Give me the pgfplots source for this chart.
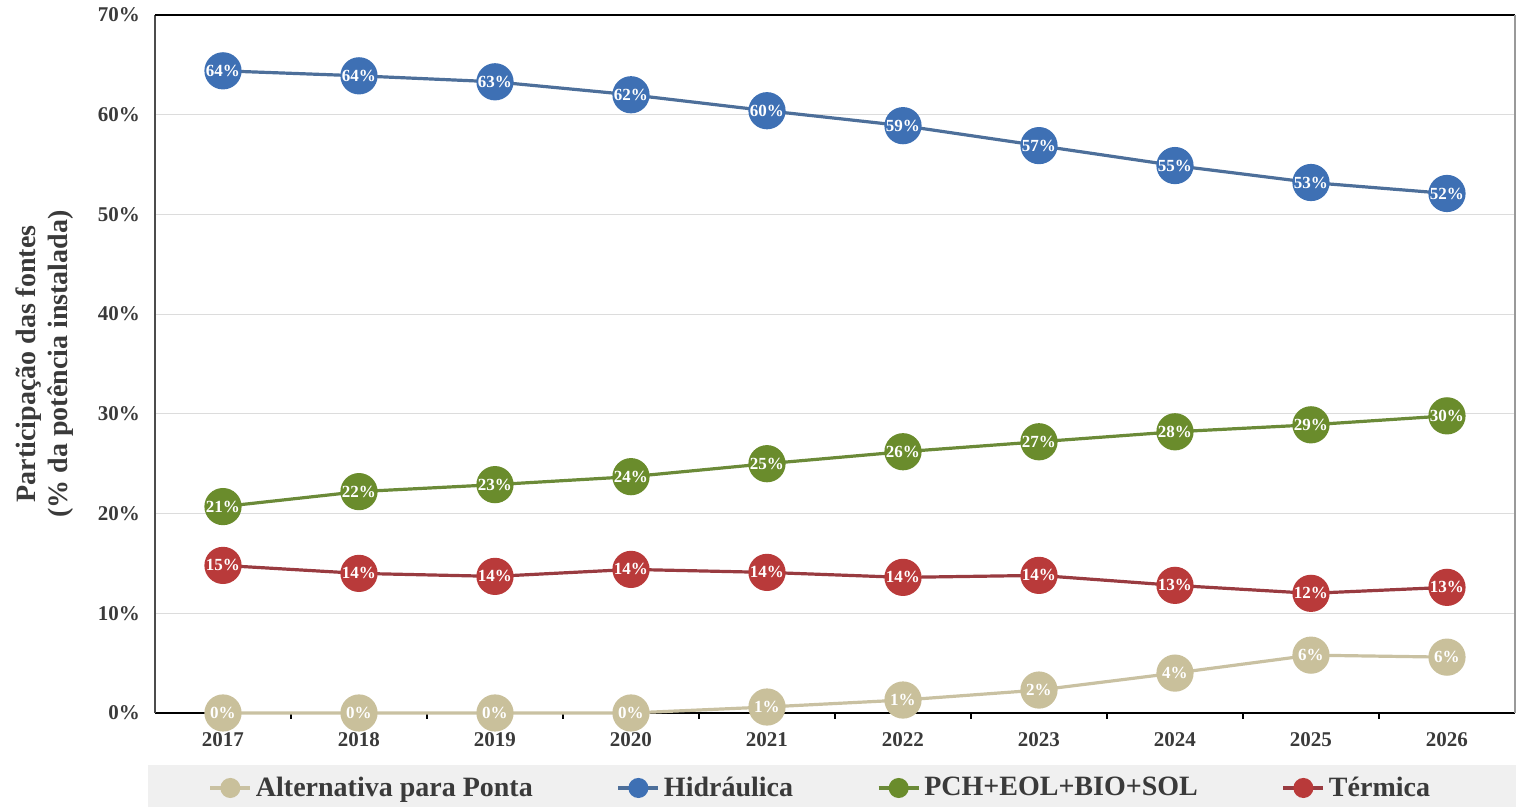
\documentclass[border=0pt]{standalone}
\usepackage{fontspec}
\setmainfont{Liberation Serif}
\usepackage{pgfplots}
\usepackage{pgfplotstable}
\pgfplotsset{compat=1.18}

\definecolor{hidfill}{HTML}{3E70B4}
\definecolor{hidline}{HTML}{4D6F9A}
\definecolor{pchfill}{HTML}{6A8C2C}
\definecolor{pchline}{HTML}{6B8A38}
\definecolor{terfill}{HTML}{B93A3A}
\definecolor{terline}{HTML}{993B40}
\definecolor{altfill}{HTML}{C9C09B}
\definecolor{altline}{HTML}{C9C1A2}
\definecolor{textgray}{HTML}{3A3A3A}
\definecolor{gridgray}{HTML}{DCDCDC}
\definecolor{bandgray}{HTML}{F0F0F0}

% Participação de cada fonte na potência instalada (%)
\pgfplotstableread{
x  alt  hid   pch   ter
0  0.0  64.4  20.7  14.8
1  0.0  63.9  22.2  14.0
2  0.0  63.3  22.9  13.7
3  0.0  62.0  23.7  14.4
4  0.6  60.4  25.0  14.1
5  1.3  58.9  26.2  13.6
6  2.3  56.9  27.2  13.8
7  4.0  54.9  28.2  12.8
8  5.8  53.2  28.9  12.0
9  5.6  52.1  29.8  12.6
}\dados

\begin{document}
\begin{tikzpicture}
% faixa cinza da legenda
\fill[bandgray] (-3.5pt,-47pt) rectangle (680.5pt,-26pt);
\begin{axis}[
  scale only axis,
  width=680pt, height=349pt,
  xmin=-0.5, xmax=9.5,
  ymin=0, ymax=70,
  clip=false,
  /pgf/number format/assume math mode=true,
  axis x line*=bottom,
  axis y line*=left,
  x axis line style={black, line width=1pt, -},
  y axis line style={black!70, line width=0.8pt, -},
  xtick={0,...,9},
  xticklabels={2017,2018,2019,2020,2021,2022,2023,2024,2025,2026},
  xtick style={draw=none},
  extra x ticks={0.5,1.5,...,8.5},
  extra x tick labels={},
  extra x tick style={grid=none, xtick style={draw=black, line width=0.8pt}, tick align=outside, major tick length=3pt},
  ytick={0,10,...,70},
  yticklabel={\pgfmathprintnumber{\tick}\%},
  ytick style={draw=none},
  ymajorgrids,
  grid style={gridgray, line width=0.6pt},
  tick label style={font=\fontsize{10.5}{13}\selectfont\bfseries, text=textgray},
  yticklabel style={xshift=-4pt},
  xticklabel style={yshift=-6pt},
  every axis y label/.style={at={(axis description cs:0,0.5)}, xshift=-55pt, rotate=90, anchor=center},
  ylabel={Participação das fontes\\(\% da potência instalada)},
  ylabel style={align=center, font=\fontsize{14}{16}\selectfont\bfseries, text=textgray},
  nodes near coords={\pgfmathprintnumber[fixed,precision=0]{\pgfplotspointmeta}\%},
  every node near coord/.append style={anchor=center, text=white, font=\fontsize{8.5}{9}\selectfont\bfseries},
  legend columns=4,
  legend style={at={(axis description cs:0.49,0)}, anchor=center, yshift=-37.5pt,
    draw=none, fill=none, font=\fontsize{14}{16}\selectfont\bfseries, text=textgray,
    /tikz/every even column/.append style={column sep=40pt}},
  legend image code/.code={\draw[mark repeat=2, mark phase=2, #1, mark size=4.2pt]
    plot coordinates {(0pt,0pt) (10pt,0pt) (20pt,0pt)};},
]
\addplot[altline, line width=1.6pt, mark=*, mark size=8.5pt, mark options={fill=altfill, draw=altfill}]
  table[x=x, y=alt] {\dados};
\addlegendentry{Alternativa para Ponta}
\addplot[hidline, line width=1.6pt, mark=*, mark size=8.5pt, mark options={fill=hidfill, draw=hidfill}]
  table[x=x, y=hid] {\dados};
\addlegendentry{Hidráulica}
\addplot[pchline, line width=1.6pt, mark=*, mark size=8.5pt, mark options={fill=pchfill, draw=pchfill}]
  table[x=x, y=pch] {\dados};
\addlegendentry{PCH+EOL+BIO+SOL}
\addplot[terline, line width=1.6pt, mark=*, mark size=8.5pt, mark options={fill=terfill, draw=terfill}]
  table[x=x, y=ter] {\dados};
\addlegendentry{Térmica}
% moldura superior e lateral direita
\draw[black, line width=1pt] (rel axis cs:0,1) -- (rel axis cs:1,1);
\draw[black!40, line width=0.8pt] (rel axis cs:1,0) -- (rel axis cs:1,1);
\end{axis}
\pgfresetboundingbox
\useasboundingbox (-77.5pt,-47pt) rectangle (680.5pt,356.5pt);
\end{tikzpicture}
\end{document}
